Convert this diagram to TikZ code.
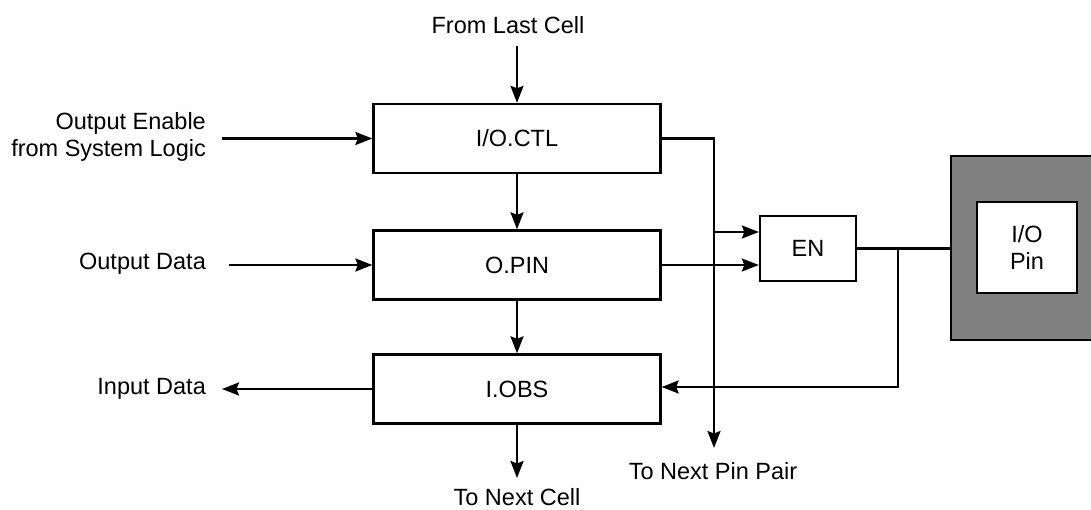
\documentclass[tikz,border=0pt]{standalone}
\usepackage{fontspec}
\setmainfont{Liberation Sans}
\usetikzlibrary{arrows.meta}
\begin{document}
\begin{tikzpicture}[x=1pt,y=-1pt,
  line width=2.3pt,
  every node/.style={font=\fontsize{23.5}{27}\selectfont, inner sep=0pt},
  blk/.style={draw, rectangle, line width=2.3pt, minimum width=287pt, minimum height=69pt},
  lbl/.style={align=center},
  arr/.style={-{Stealth[length=17pt,width=13pt,inset=2.5pt]}}
]
\useasboundingbox (0,0) rectangle (1091,510);
% gray pin frame
\fill[black!50] (951,156) rectangle (1100,340);
\draw (1100,156) -- (951,156) -- (951,340) -- (1100,340);
\node[draw, fill=white, minimum width=100pt, minimum height=91pt, align=center] (pin) at (1027,247.5) {I/O\\Pin};
% blocks
\node[blk] (ctl) at (517,138.5) {I/O.CTL};
\node[blk] (opin) at (517,265) {O.PIN};
\node[blk] (iobs) at (517,389) {I.OBS};
\node[draw, rectangle, minimum width=96pt, minimum height=65pt] (en) at (808,248.5) {EN};
\coordinate (gw) at (951,248.5);
% labels
\node[lbl] (flc) at (508,25) {From Last Cell};
\node[lbl, align=right, anchor=east] (oe) at (207,137) {Output Enable\\from System Logic};
\node[lbl, anchor=east] (od) at (207,264) {Output Data};
\node[lbl, anchor=east] (id) at (207,389) {Input Data};
\node[lbl] (tnc) at (517,497) {To Next Cell};
\node[lbl] (tnp) at (713,471) {To Next Pin Pair};
% coordinates
\coordinate (flcs) at (517,46);
\coordinate (oes) at (222,138.5);
\coordinate (ods) at (229,265);
\coordinate (ide) at (222,389);
\coordinate (tnce) at (517,478);
\coordinate (bus) at (714,138.5);
\coordinate (buse) at (714,448);
\coordinate (bustap) at (714,232);
\coordinate (junc) at (898,248.5);
\coordinate (juncb) at (898,387);
% connectors
\draw[arr] (flcs) -- (ctl.north);
\draw[arr] (oes) -- (ctl.west);
\draw[arr] (ods) -- (opin.west);
\draw[arr] (iobs.west) -- (ide);
\draw[arr] (ctl.south) -- (opin.north);
\draw[arr] (opin.south) -- (iobs.north);
\draw[arr] (iobs.south) -- (tnce);
\draw[arr] (ctl.east) -- (bus) -- (buse);
\draw[arr] (bustap) -- (bustap -| en.west);
\draw[arr] (opin.east) -- (opin.east -| en.west);
\draw (en.east) -- (gw);
\draw[arr] (junc) -- (juncb) -- (juncb -| iobs.east);
\end{tikzpicture}
\end{document}
